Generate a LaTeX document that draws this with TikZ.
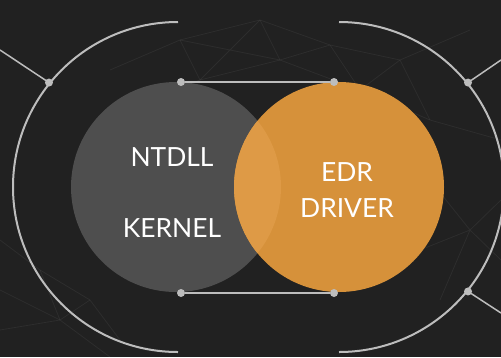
\documentclass[tikz,border=0pt]{standalone}
\usepackage{fontspec}
\setmainfont{Lato}
\definecolor{bgc}{HTML}{212121}
\definecolor{grayc}{HTML}{4E4E4E}
\definecolor{orangec}{HTML}{D6913A}
\definecolor{overc}{HTML}{DE9A46}
\definecolor{linec}{HTML}{BDBDBD}
\tikzset{
  ring/.style={draw=linec, line width=2bp},
  link/.style={draw=linec, line width=1.5bp},
  dotc/.style={circle, fill=linec, inner sep=0pt, minimum size=8bp},
  mesh/.style={draw=white, draw opacity=0.055, line width=0.8bp},
  lbl/.style={text=white, font=\fontsize{26.5}{36}\selectfont, inner sep=0pt, align=center}
}
\begin{document}
\begin{tikzpicture}[x=1bp,y=-1bp]
\fill[bgc] (0,0) rectangle (501,357);
\useasboundingbox (0,0) rectangle (501,357);
% faint background mesh
\draw[mesh] (110,70) -- (180,40) -- (260,20) -- (330,45) -- (400,60) -- (470,30);
\draw[mesh] (120,110) -- (200,80) -- (280,60) -- (360,90) -- (430,120) -- (501,140);
\draw[mesh] (180,40) -- (200,80) (260,20) -- (280,60) (330,45) -- (360,90) (400,60) -- (430,120);
\draw[mesh] (180,40) -- (280,60) -- (330,45) (200,80) -- (260,20) (360,90) -- (400,60);
\draw[mesh] (0,240) -- (40,270) -- (90,300) -- (120,340) (0,290) -- (60,320) -- (110,357);
\draw[mesh] (40,270) -- (60,320) (90,300) -- (60,320) (0,330) -- (60,320);
\draw[mesh] (430,180) -- (470,230) -- (501,260) (420,250) -- (470,230) -- (501,200) (440,300) -- (470,230);
% circles
\node[circle, fill=grayc, minimum size=210bp, inner sep=0pt] (g) at (176,187) {};
\node[circle, fill=orangec, minimum size=210bp, inner sep=0pt] (o) at (339,187) {};
\begin{scope}
  \clip (176,187) circle[radius=105];
  \fill[overc] (339,187) circle[radius=105];
\end{scope}
% outer arcs
\draw[ring] (178,22) arc[start angle=270, end angle=90, radius=165];
\draw[ring] (339,22) arc[start angle=270, end angle=450, radius=165];
% dots on arcs
\coordinate (ca) at (178,187);
\coordinate (cb) at (339,187);
\node[dotc] (d1) at ([shift={(219:166)}]ca) {};
\node[dotc] (d2) at ([shift={(321:166)}]cb) {};
\node[dotc] (d3) at ([shift={(39:166)}]cb) {};
\coordinate (e1) at (0,50);
\coordinate (e2) at (501,60);
\coordinate (e3) at (501,313);
\draw[link] (d1.center) -- (e1);
\draw[link] (d2.center) -- (e2);
\draw[link] (d3.center) -- (e3);
% connectors between circles
\node[dotc] (t1) at (181,82) {};
\node[dotc] (t2) at (334,82) {};
\node[dotc] (b1) at (181,293) {};
\node[dotc] (b2) at (334,293) {};
\draw[link] (t1) -- (t2);
\draw[link] (b1) -- (b2);
% labels
\node[lbl] (n1) at (172,157) {NTDLL};
\node[lbl] (n2) at (172,228) {KERNEL};
\node[lbl] (n3) at (347,190) {EDR\\DRIVER};
\end{tikzpicture}
\end{document}
